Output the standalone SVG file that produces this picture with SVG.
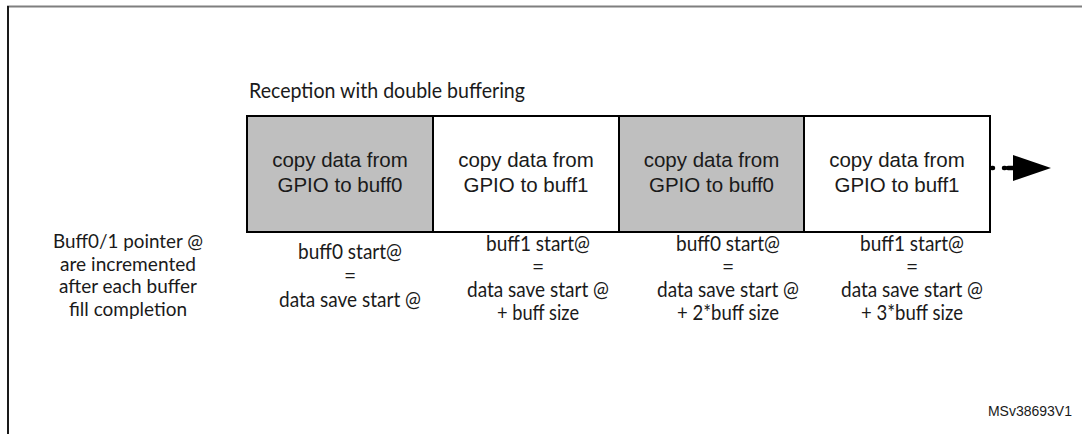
<svg xmlns="http://www.w3.org/2000/svg" width="1082" height="434" viewBox="0 0 1082 434">
  <style>
    .frame-top { stroke: #7f7f7f; stroke-width: 2; }
    .frame-left { stroke: #1a1a1a; stroke-width: 2; }
    .cell { stroke: #000; stroke-width: 2; }
    .fill0 { fill: #bfbfbf; }
    .fill1 { fill: #fff; }
    .cell-text { font-family: "Liberation Sans", Arial, sans-serif; font-size: 20.5px; fill: #1a1a1a; text-anchor: middle; }
    .note { font-family: Lato, "Noto Sans", "DejaVu Sans", sans-serif; font-size: 21px; fill: #1a1a1a; text-anchor: middle; }
    .side { font-size: 19.5px; }
    .caption { font-family: Lato, "Noto Sans", "DejaVu Sans", sans-serif; font-size: 21px; fill: #1a1a1a; }
    .ref { font-family: "Liberation Sans", Arial, sans-serif; font-size: 14px; fill: #1a1a1a; text-anchor: end; }
  </style>

  <rect width="1082" height="434" fill="#fff"/>

  <!-- frame -->
  <line class="frame-top" x1="7" y1="6.5" x2="1082" y2="6.5"/>
  <line class="frame-left" x1="8" y1="6" x2="8" y2="434"/>

  <!-- caption -->
  <text class="caption" x="249" y="98" textLength="276" lengthAdjust="spacingAndGlyphs">Reception with double buffering</text>

  <!-- buffer fill stages -->
  <g id="stage1">
    <rect class="cell fill0" x="247" y="116" width="186" height="116"/>
    <text class="cell-text" x="340" y="167">copy data from</text>
    <text class="cell-text" x="340" y="192">GPIO to buff0</text>
  </g>
  <g id="stage2">
    <rect class="cell fill1" x="433" y="116" width="186" height="116"/>
    <text class="cell-text" x="526" y="167">copy data from</text>
    <text class="cell-text" x="526" y="192">GPIO to buff1</text>
  </g>
  <g id="stage3">
    <rect class="cell fill0" x="619" y="116" width="185" height="116"/>
    <text class="cell-text" x="711.5" y="167">copy data from</text>
    <text class="cell-text" x="711.5" y="192">GPIO to buff0</text>
  </g>
  <g id="stage4">
    <rect class="cell fill1" x="804" y="116" width="186" height="116"/>
    <text class="cell-text" x="897" y="167">copy data from</text>
    <text class="cell-text" x="897" y="192">GPIO to buff1</text>
  </g>

  <!-- continuation arrow -->
  <g id="connectors">
    <line x1="992" y1="168" x2="1013" y2="168" stroke="#000" stroke-width="4.5" stroke-linecap="round" stroke-dasharray="1 11"/>
    <line x1="1008" y1="168" x2="1014" y2="168" stroke="#000" stroke-width="4.5" stroke-linecap="round"/>
    <polygon points="1013,155 1051,168 1013,181" fill="#000"/>
  </g>

  <!-- pointer note -->
  <g id="pointer-note">
    <text class="note side" x="128" y="248" textLength="150" lengthAdjust="spacingAndGlyphs">Buff0/1 pointer @</text>
    <text class="note side" x="128" y="270.5" textLength="136" lengthAdjust="spacingAndGlyphs">are incremented</text>
    <text class="note side" x="128" y="293" textLength="138" lengthAdjust="spacingAndGlyphs">after each buffer</text>
    <text class="note side" x="128" y="315.5" textLength="118" lengthAdjust="spacingAndGlyphs">fill completion</text>
  </g>

  <!-- start address labels -->
  <g id="addr1">
    <text class="note" x="350" y="259" textLength="104" lengthAdjust="spacingAndGlyphs">buff0 start@</text>
    <text class="note" x="350" y="283">=</text>
    <text class="note" x="350" y="307" textLength="142" lengthAdjust="spacingAndGlyphs">data save start @</text>
  </g>
  <g id="addr2">
    <text class="note" x="538" y="251" textLength="104" lengthAdjust="spacingAndGlyphs">buff1 start@</text>
    <text class="note" x="538" y="274">=</text>
    <text class="note" x="538" y="297" textLength="142" lengthAdjust="spacingAndGlyphs">data save start @</text>
    <text class="note" x="538" y="320" textLength="82" lengthAdjust="spacingAndGlyphs">+ buff size</text>
  </g>
  <g id="addr3">
    <text class="note" x="728" y="251" textLength="104" lengthAdjust="spacingAndGlyphs">buff0 start@</text>
    <text class="note" x="728" y="274">=</text>
    <text class="note" x="728" y="297" textLength="142" lengthAdjust="spacingAndGlyphs">data save start @</text>
    <text class="note" x="728" y="320" textLength="102" lengthAdjust="spacingAndGlyphs">+ 2*buff size</text>
  </g>
  <g id="addr4">
    <text class="note" x="912" y="251" textLength="104" lengthAdjust="spacingAndGlyphs">buff1 start@</text>
    <text class="note" x="912" y="274">=</text>
    <text class="note" x="912" y="297" textLength="142" lengthAdjust="spacingAndGlyphs">data save start @</text>
    <text class="note" x="912" y="320" textLength="102" lengthAdjust="spacingAndGlyphs">+ 3*buff size</text>
  </g>

  <text class="ref" x="1072" y="416">MSv38693V1</text>
</svg>
